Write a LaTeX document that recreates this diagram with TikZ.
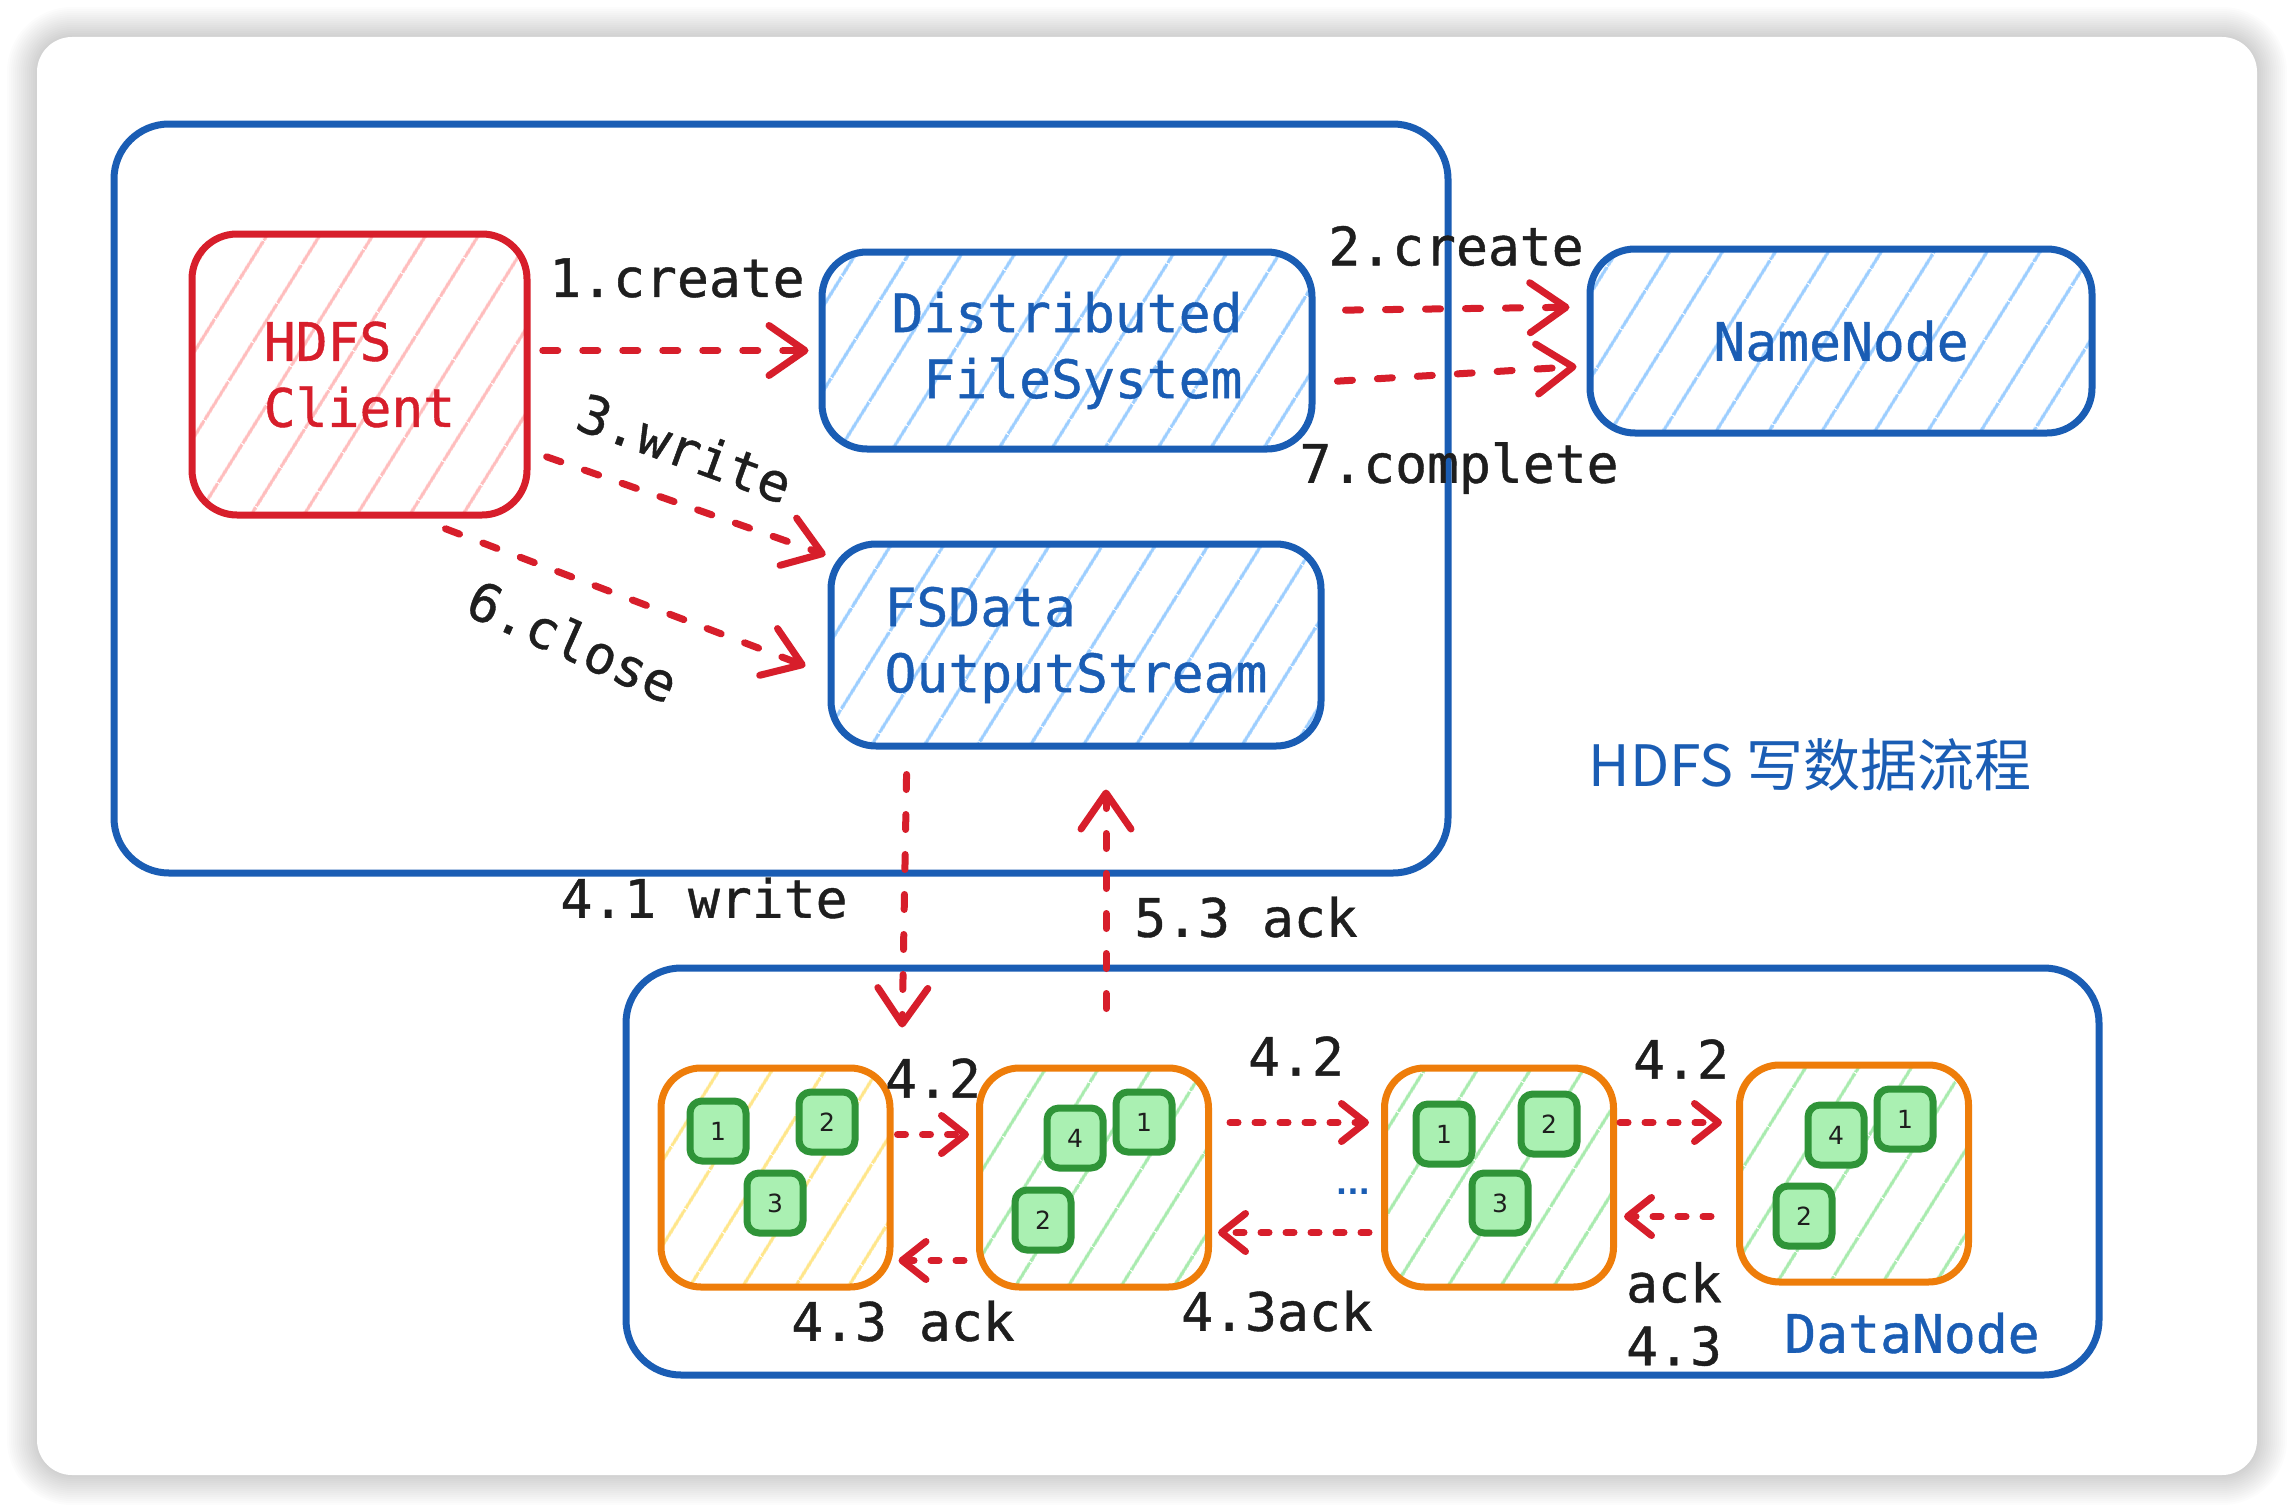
\documentclass[tikz,border=0pt]{standalone}
\usepackage{fontspec}
\setmonofont{DejaVu Sans Mono}[FakeBold=0.8]
\newfontfamily\cjkfont{Noto Sans CJK SC}
\newfontfamily\numfont{DejaVu Sans}
\usetikzlibrary{arrows.meta,patterns.meta}

\definecolor{exred}{HTML}{D71E2B}
\definecolor{exblue}{HTML}{1A5DB4}
\definecolor{exorange}{HTML}{EE7D0A}
\definecolor{exgreen}{HTML}{2F9438}
\definecolor{ink}{HTML}{1E1E1E}
\definecolor{pinkhatch}{HTML}{FFBDBD}
\definecolor{bluehatch}{HTML}{9CCEFF}
\definecolor{greenhatch}{HTML}{A8EBAE}
\definecolor{yellowhatch}{HTML}{FFE68A}
\definecolor{blockfill}{HTML}{AAF0B2}

\begin{document}
\begin{tikzpicture}[x=1pt,y=-1pt]
        \tikzstyle{every node}=[inner sep=0pt, text=ink, font=\ttfamily\fontsize{53}{66}\selectfont]
        \tikzstyle{hatch}=[pattern={Lines[angle=58,distance=46pt,line width=3.5pt]}]
        \tikzstyle{box}=[draw, line width=7pt, rounded corners=45pt, hatch]
        \tikzstyle{client}=[box, draw=exred, text=exred, pattern color=pinkhatch, align=left]
        \tikzstyle{sys}=[box, draw=exblue, text=exblue, pattern color=bluehatch]
        \tikzstyle{frame}=[draw=exblue, line width=7pt, rounded corners=55pt]
        \tikzstyle{dn}=[draw=exorange, line width=7pt, rounded corners=40pt, hatch, pattern color=greenhatch, minimum width=229pt, minimum height=219pt]
        \tikzstyle{blk}=[draw=exgreen, fill=blockfill, line width=7pt, rounded corners=12pt, minimum width=56pt, minimum height=60pt, font=\numfont\fontsize{25}{30}\selectfont]
        \tikzstyle{arr}=[draw=exred, line width=7pt, line cap=round, dash pattern=on 15pt off 25pt, -{Straight Barb[length=36pt,width=50pt,round]}]
        \tikzstyle{arrs}=[arr, dash pattern=on 8pt off 17pt, -{Straight Barb[length=24pt,width=38pt,round]}]

        % page, shadow and card
        \fill[white] (0,0) rectangle (2294,1512);
        \useasboundingbox (0,0) rectangle (2294,1512);
        \foreach \s in {2,4,...,30}
            \fill[black, opacity=0.011, rounded corners={35+\s}] ({37-\s},{37-\s}) rectangle ({2257+\s},{1475+\s});
        \fill[white, rounded corners=35pt] (37,37) rectangle (2257,1475);

        % frames
        \node[frame, minimum width=1334pt, minimum height=749pt] (upper) at (781,498.5) {};
        \node[frame, minimum width=1473pt, minimum height=407pt] (lower) at (1362.5,1171.5) {};

        % client side
        \node[client, minimum width=335pt, minimum height=281pt] (client) at (359.5,374.5) {HDFS\\Client};
        \node[sys, minimum width=490pt, minimum height=197pt, align=right] (dfs) at (1067,350.5) {Distributed\\FileSystem};
        \node[sys, minimum width=502pt, minimum height=184pt] (nn) at (1841,341) {NameNode};
        \node[sys, minimum width=490pt, minimum height=202pt, align=left] (fsdos) at (1076,645) {FSData\\OutputStream};

        % datanodes and blocks
        \node[dn, pattern color=yellowhatch] (dn1) at (775.5,1177.5) {};
        \node[dn] (dn2) at (1094,1177.5) {};
        \node[dn] (dn3) at (1499,1177.5) {};
        \node[dn, minimum height=217pt] (dn4) at (1854,1173.5) {};

        \node[blk] (a1) at (718,1131) {1};
        \node[blk] (a2) at (827,1122) {2};
        \node[blk] (a3) at (775,1203) {3};
        \node[blk] (b4) at (1075,1138) {4};
        \node[blk] (b1) at (1144,1122) {1};
        \node[blk] (b2) at (1043,1220) {2};
        \node[blk] (c1) at (1444,1134) {1};
        \node[blk] (c2) at (1549,1124) {2};
        \node[blk] (c3) at (1500,1203) {3};
        \node[blk] (d4) at (1836,1135) {4};
        \node[blk] (d1) at (1905,1119) {1};
        \node[blk] (d2) at (1804,1216) {2};

        % connectors
        \draw[arr, shorten <=14pt, shorten >=10pt] (client.east |- dfs.west) -- (dfs.west);
        \draw[arr, shorten <=30pt, shorten >=17pt] ([yshift=40pt]dfs.east) -- ([yshift=34pt]nn.west);
        \draw[arr, shorten <=22pt, shorten >=10pt] ([yshift=-32pt]dfs.east) -- ([yshift=-25pt]nn.west);
        \draw[arr, shorten <=19pt, shorten >=2pt] ([yshift=-76pt]client.east) -- ([yshift=-15pt]fsdos.north west);
        \draw[arr] ([xshift=86pt,yshift=-12pt]client.south) -- ([xshift=-22pt,yshift=-21pt]fsdos.west);
        \draw[arr, shorten <=25pt, shorten >=37pt] ([xshift=-169pt]fsdos.south) -- ([xshift=8pt]dn1.north east);
        \draw[arr, shorten <=56pt, shorten >=40pt] ([xshift=12pt]dn2.north) -- ([xshift=30pt]fsdos.south);

        \draw[arrs, shorten <=4pt, shorten >=7pt] ([yshift=43pt]dn1.east) -- ([yshift=43pt]dn2.west);
        \draw[arrs, shorten <=18pt, shorten >=12pt] ([yshift=55pt]dn2.east) -- ([yshift=55pt]dn3.west);
        \draw[arrs, shorten <=3pt, shorten >=14pt] ([yshift=55pt]dn3.east) -- ([yshift=51pt]dn4.west);
        \draw[arrs, shorten <=25pt, shorten >=7pt] ([yshift=-43pt]dn4.west) -- ([yshift=-39pt]dn3.east);
        \draw[arrs, shorten <=12pt, shorten >=6pt] ([yshift=-55pt]dn3.west) -- ([yshift=-55pt]dn2.east);
        \draw[arrs, shorten <=12pt, shorten >=5pt] ([yshift=-83pt]dn2.west) -- ([yshift=-83pt]dn1.east);

        % labels
        \node (l1) at (677,278) {1.create};
        \node (l2) at (1456,246) {2.create};
        \node (l7) at (1459,468) {7.complete};
        \node[rotate=-20] (l3) at (685,448) {3.write};
        \node[rotate=-24] (l6) at (573,641) {6.close};
        \node (l41) at (704,898) {4.1 write};
        \node (l53) at (1246,917) {5.3 ack};
        \node (l42a) at (933,1078) {4.2};
        \node (l42b) at (1296,1056) {4.2};
        \node (l42c) at (1681,1059) {4.2};
        \node (l43a) at (903,1321) {4.3 ack};
        \node (l43b) at (1277,1311) {4.3ack};
        \node[align=center, font=\ttfamily\fontsize{53}{63}\selectfont] (l43c) at (1674,1314) {ack\\4.3};
        \node[text=exblue, font=\numfont\bfseries\fontsize{30}{36}\selectfont] (dots) at (1353,1192) {...};
        \node[text=exblue] (dnlabel) at (1912,1333) {DataNode};
        \node[text=exblue, font=\cjkfont\fontsize{57}{64}\selectfont] (title) at (1810,765) {HDFS 写数据流程};
\end{tikzpicture}
\end{document}
